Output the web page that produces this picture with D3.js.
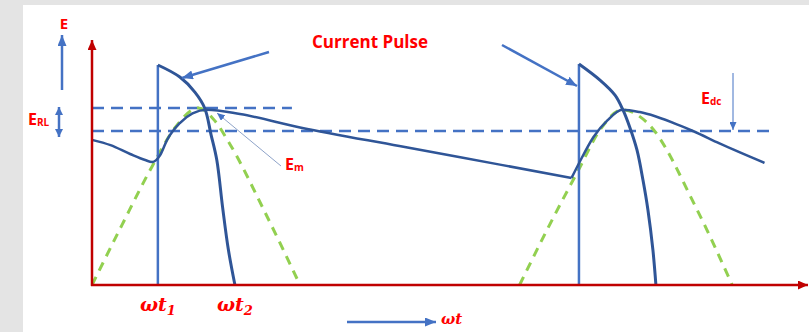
<!DOCTYPE html>
<html><head><meta charset="utf-8">
<script src="https://cdn.jsdelivr.net/npm/d3@7"></script>
<style>body{margin:0;background:#e4e4e4;overflow:hidden}</style>
</head><body><svg id="c" width="809" height="332"></svg>
<script>
// ωt in degrees, E normalised to the peak of the rectified sine
const sineCycle1 = [[0,0],[26,0.34],[52,0.67],[72,0.89],[92,1.0],[106,0.93],[119,0.80],[149,0.42],[180,0]];
const sineCycle2 = [[370,0],[396,0.34],[421,0.65],[440,0.88],[459,0.99],[480,0.92],[524,0.42],[554,0]];
const capCycle1 = [[0,0.82],[16,0.79],[33,0.74],[46,0.706],[52,0.695],[59,0.734],[65,0.82],[76,0.915],[87,0.97],[99.5,0.99],[128,0.966],[180,0.89],[266,0.785],[353,0.68],[415,0.605]];
const capCycle2 = [[415,0.605],[422,0.695],[434,0.836],[446,0.93],[459,0.99],[474,0.977],[509,0.90],[520,0.87],[543,0.80],[582,0.69]];
const pulse1 = [[57,1.243],[76,1.175],[89,1.09],[97.5,1.0],[103,0.85],[108,0.706],[113,0.44],[118,0.2],[123.7,0]];
const pulse2 = [[421.4,1.249],[439.6,1.158],[452.6,1.073],[459.5,0.989],[465.6,0.887],[471.6,0.763],[476.8,0.593],[481.1,0.424],[485.4,0.198],[488,0]];
const levels = [{E:1.0, to:173}, {E:0.87, to:587}];
const tickLabels = [{deg:57, sub:"1"}, {deg:123.7, sub:"2"}];
const axisMax = {deg:619.6, E:1.384};

const svg = d3.select("#c");
const x = d3.scaleLinear().domain([0,180]).range([92,300]);
const y = d3.scaleLinear().domain([0,1]).range([285,108]);

const RED = "#c00000", TXT = "#ff0000", BLUE = "#4472c4", NAVY = "#2f5597", GREEN = "#92d050";

svg.append("rect").attr("x",23).attr("y",5).attr("width",786).attr("height",327).attr("fill","#fff");

const defs = svg.append("defs");
function marker(id, color, w, h){
  defs.append("marker").attr("id",id).attr("markerUnits","userSpaceOnUse")
    .attr("viewBox",`0 0 ${w} ${h}`).attr("refX",w).attr("refY",h/2)
    .attr("markerWidth",w).attr("markerHeight",h).attr("orient","auto-start-reverse")
    .append("path").attr("d",`M0,0L${w},${h/2}L0,${h}Z`).attr("fill",color);
}
marker("aRed", RED, 10, 9);
marker("aBlue", BLUE, 11, 9);
marker("aSmall", BLUE, 8, 8);
marker("aThin", BLUE, 8, 7);

const line = d3.line().x(d=>x(d[0])).y(d=>y(d[1])).curve(d3.curveMonotoneX);
const pulseLine = d3.line().x(d=>x(d[0])).y(d=>y(d[1])).curve(d3.curveCatmullRom.alpha(0.5));

// reference levels
levels.forEach(l=>{
  svg.append("line").attr("x1",x(0)).attr("x2",x(l.to)).attr("y1",y(l.E)).attr("y2",y(l.E))
    .attr("stroke",BLUE).attr("stroke-width",2.5).attr("stroke-dasharray","12,7");
});

// rectified sine
[sineCycle1, sineCycle2].forEach(s=>{
  svg.append("path").attr("d",line(s)).attr("fill","none").attr("stroke",GREEN)
    .attr("stroke-width",3).attr("stroke-dasharray","9,7");
});

// current pulses
[pulse1, pulse2].forEach(p=>{
  svg.append("line").attr("x1",x(p[0][0])).attr("x2",x(p[0][0])).attr("y1",y(0)).attr("y2",y(p[0][1]))
    .attr("stroke",BLUE).attr("stroke-width",2.5);
  svg.append("path").attr("d",pulseLine(p)).attr("fill","none").attr("stroke",NAVY).attr("stroke-width",3);
});

// capacitor voltage
[capCycle1, capCycle2].forEach(c=>{
  svg.append("path").attr("d",line(c)).attr("fill","none").attr("stroke",NAVY)
    .attr("stroke-width",2.5).attr("stroke-linejoin","miter");
});

// axes
svg.append("line").attr("x1",x(0)).attr("x2",x(0)).attr("y1",y(0)+1).attr("y2",y(axisMax.E))
  .attr("stroke",RED).attr("stroke-width",2.5).attr("marker-end","url(#aRed)");
svg.append("line").attr("x1",x(0)-1).attr("x2",x(axisMax.deg)).attr("y1",y(0)).attr("y2",y(0))
  .attr("stroke",RED).attr("stroke-width",2.5).attr("marker-end","url(#aRed)");

// annotation arrows
function arrow(x1,y1,x2,y2,w,m,both){
  const l = svg.append("line").attr("x1",x1).attr("y1",y1).attr("x2",x2).attr("y2",y2)
    .attr("stroke",BLUE).attr("stroke-width",w).attr("marker-end",`url(#${m})`);
  if(both) l.attr("marker-start",`url(#${m})`);
}
arrow(62,90,62,35,2.5,"aBlue");
arrow(59,107,59,137,2.5,"aSmall",true);
arrow(269,52,182,78,2.5,"aBlue");
arrow(502,45,577,86,2.5,"aBlue");
arrow(347,322,436,322,2.5,"aBlue");
svg.append("line").attr("x1",281).attr("y1",166).attr("x2",217).attr("y2",113)
  .attr("stroke","#8ea3c8").attr("stroke-width",1).attr("marker-end","url(#aThin)");
arrow(733,73,733,130,1,"aThin");

// texts
const sans = "'Open Sans', sans-serif";
svg.append("text").attr("x",64).attr("y",29).attr("text-anchor","middle").attr("fill",TXT)
  .attr("font-family",sans).attr("font-weight","bold").attr("font-size",15).text("E");
svg.append("text").attr("x",370).attr("y",48).attr("text-anchor","middle").attr("fill",TXT)
  .attr("font-family",sans).attr("font-weight","bold").attr("font-size",17).text("Current Pulse");
function subLabel(xp, yp, main, sub){
  const t = svg.append("text").attr("x",xp).attr("y",yp).attr("fill",TXT)
    .attr("font-family",sans).attr("font-weight","bold").attr("font-size",16);
  t.append("tspan").text(main);
  t.append("tspan").attr("font-size",10).attr("dy",1).text(sub);
}
subLabel(28,125,"E","RL");
subLabel(285,170,"E","m");
subLabel(701,104,"E","dc");

const serif = "'DejaVu Serif', serif";
tickLabels.forEach(t=>{
  const tx = svg.append("text").attr("x",x(t.deg)).attr("y",311).attr("text-anchor","middle")
    .attr("fill",TXT).attr("font-family",serif).attr("font-weight","bold").attr("font-style","italic")
    .attr("font-size",19);
  tx.append("tspan").text("ωt");
  tx.append("tspan").attr("font-size",13).attr("dy",4).text(t.sub);
});
svg.append("text").attr("x",441).attr("y",324).attr("fill",TXT).attr("font-family",serif)
  .attr("font-weight","bold").attr("font-style","italic").attr("font-size",15).text("ωt");
</script></body></html>
